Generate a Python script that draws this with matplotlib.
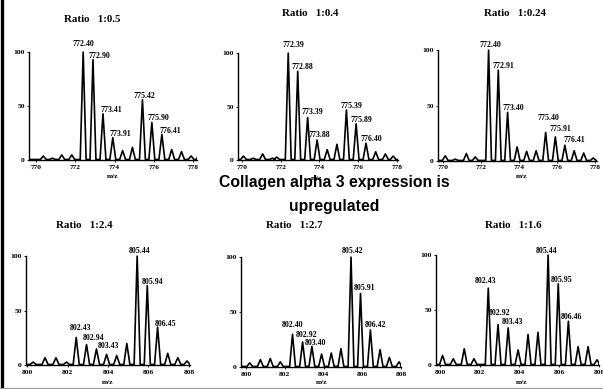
import matplotlib
matplotlib.use("Agg")
import matplotlib.pyplot as plt
from matplotlib.lines import Line2D

plt.rcParams["font.family"] = ["Liberation Serif", "DejaVu Serif"]
plt.rcParams["font.weight"] = "bold"

W, H = 603, 389

# ---- spectra: peak apex m/z and relative intensity ----
p1_mz = [770.37, 770.83, 771.31, 771.82, 772.40, 772.90, 773.41, 773.91, 774.41,
         774.91, 775.42, 775.90, 776.41, 776.91, 777.41, 777.90, 778.30]
p1_int = [4, 2, 5, 5, 100, 93, 43, 21, 9, 12, 56, 35, 24, 10, 8, 4, 5]
p1_labels = ["772.40", "772.90", "773.41", "773.91", "775.42", "775.90", "776.41"]

p2_mz = [770.08, 770.58, 771.07, 771.57, 771.80, 772.39, 772.88, 773.39, 773.88,
         774.40, 774.90, 775.39, 775.89, 776.40, 776.90, 777.40, 777.80]
p2_int = [4, 2, 6, 2, 3, 100, 83, 40, 19, 10, 15, 47, 34, 16, 8, 6, 4]
p2_labels = ["772.39", "772.88", "773.39", "773.88", "775.39", "775.89", "776.40"]

p3_mz = [770.12, 770.65, 771.23, 771.70, 772.40, 772.91, 773.40, 773.90, 774.40,
         774.90, 775.40, 775.91, 776.41, 776.90, 777.40, 777.90]
p3_int = [5, 2, 7, 4, 100, 82, 44, 13, 9, 9.5, 26, 22, 14.5, 9.5, 7.5, 3]
p3_labels = ["772.40", "772.91", "773.40", "775.40", "775.91", "776.41"]

p4_mz = [800.30, 800.89, 801.43, 801.95, 802.43, 802.94, 803.43, 803.93, 804.43,
         804.93, 805.44, 805.94, 806.45, 806.95, 807.45, 807.90]
p4_int = [3, 7, 7, 3, 25.5, 19, 15, 10, 9, 20, 100, 73, 35, 11, 7, 4]
p4_labels = ["802.43", "802.94", "803.43", "805.44", "805.94", "806.45"]

p5_mz = [800.19, 800.74, 801.25, 801.77, 802.40, 802.92, 803.40, 803.90, 804.40,
         804.90, 805.42, 805.91, 806.42, 806.92, 807.40, 807.90]
p5_int = [4, 7, 8, 5, 30, 23, 19, 12, 13, 17, 100, 67, 34, 16, 9, 5]
p5_labels = ["802.40", "802.92", "803.40", "805.42", "805.91", "806.42"]

p6_mz = [800.13, 800.67, 801.22, 801.71, 802.43, 802.92, 803.43, 803.93, 804.43,
         804.93, 805.44, 805.95, 806.46, 806.95, 807.45, 807.90]
p6_int = [9, 6, 15, 6, 70, 37, 34, 14, 28, 30, 100, 74, 40, 17, 17, 5]
p6_labels = ["802.43", "802.92", "803.43", "805.44", "805.95", "806.46"]

titles = ["Ratio   1:0.5", "Ratio   1:0.4", "Ratio   1:0.24",
          "Ratio   1:2.4", "Ratio   1:2.7", "Ratio   1:1.6"]
top_ticks = [770, 772, 774, 776, 778]
bottom_ticks = [800, 802, 804, 806, 808]
y_ticks = [0, 50, 100]

# ---- layout (pixel boxes: left, top, right, bottom) ----
panels = [
    dict(mz=p1_mz, it=p1_int, lab=p1_labels, box=(29, 51, 197, 161), xlim=(769.64, 778.2),
         ticks=top_ticks, title_xy=(92, 20), xl_xy=(113, 177),
         nudge=[(0, 8), (6, 4), (8, 4), (8, 4), (2, 4), (7, 4), (8, 3)]),
    dict(mz=p2_mz, it=p2_int, lab=p2_labels, box=(238, 52, 398, 161), xlim=(769.8, 778.05),
         ticks=top_ticks, title_xy=(310, 13), xl_xy=(317, 178),
         nudge=[(5, 8), (5, 4), (5, 5), (2, 5), (5, 4), (5, 4), (5, 4)]),
    dict(mz=p3_mz, it=p3_int, lab=p3_labels, box=(438, 49, 597, 162), xlim=(769.74, 778.1),
         ticks=top_ticks, title_xy=(515, 13), xl_xy=(522, 177),
         nudge=[(2, 5), (5, 4), (6, 4), (3, 14), (5, 8), (9, 5)]),
    dict(mz=p4_mz, it=p4_int, lab=p4_labels, box=(26, 255, 190, 366), xlim=(799.95, 808.05),
         ticks=bottom_ticks, title_xy=(84, 226), xl_xy=(108, 383),
         nudge=[(4, 9), (7, 7), (12, 3), (2, 5), (5, 4), (8, 3)]),
    dict(mz=p5_mz, it=p5_int, lab=p5_labels, box=(241, 256, 401, 368), xlim=(799.74, 808.0),
         ticks=bottom_ticks, title_xy=(294, 226), xl_xy=(322, 383),
         nudge=[(0, 9), (4, 7), (4, 3), (2, 6), (4, 5), (5, 5)]),
    dict(mz=p6_mz, it=p6_int, lab=p6_labels, box=(436, 254, 599, 366), xlim=(799.8, 808.0),
         ticks=bottom_ticks, title_xy=(513, 226), xl_xy=(522, 383),
         nudge=[(-3, 7), (2, 12), (4, 6), (-2, 4), (3, 4), (3, 4)]),
]

PX = 72.0 / 100.0  # points per pixel at 100 dpi


def trace(mz, inten, lo, hi, base=0.8, hw=0.15):
    """Peak-by-peak profile: each peak drawn as a narrow triangle on the baseline."""
    xs, ys = [lo], [base]
    for m, h in zip(mz, inten):
        xs += [m - hw, m, m + hw]
        ys += [base, h, base]
    xs.append(hi)
    ys.append(base)
    return xs, ys


fig = plt.figure(figsize=(W / 100, H / 100), dpi=100)

for p, title in zip(panels, titles):
    l, t, r, b = p["box"]
    ax = fig.add_axes([l / W, 1 - b / H, (r - l) / W, (b - t) / H])
    xs, ys = trace(p["mz"], p["it"], *p["xlim"])
    ax.plot(xs, ys, color="black", lw=1.2, solid_joinstyle="round")
    ax.set_xlim(*p["xlim"])
    ax.set_ylim(-0.6, 101)
    for s in ("top", "right"):
        ax.spines[s].set_visible(False)
    ax.spines["bottom"].set_position(("data", 0))
    ax.spines["left"].set_bounds(0, 100)
    ax.spines["left"].set_linewidth(1.0)
    ax.spines["bottom"].set_linewidth(1.0)
    ax.set_xticks(p["ticks"])
    ax.set_yticks(y_ticks)
    ax.set_xticklabels([str(v) for v in p["ticks"]])
    ax.set_yticklabels([str(v) for v in y_ticks])
    ax.tick_params(length=1.5, width=0.6, pad=1.5, labelsize=5.4)

    for lab, (dx, dy) in zip(p["lab"], p["nudge"]):
        idx = [f"{m:.2f}" for m in p["mz"]].index(lab)
        ax.annotate(lab, (p["mz"][idx], p["it"][idx]), xytext=(dx * PX, dy * PX),
                    textcoords="offset points", ha="center", va="center",
                    fontsize=5.7, fontweight="bold", annotation_clip=False)

    tx, ty = p["title_xy"]
    fig.text(tx / W, 1 - ty / H, title, ha="center", va="center",
             fontsize=7.8, fontweight="bold")
    mx, my = p["xl_xy"]
    fig.text(mx / W, 1 - my / H, "m/z", ha="center", va="center",
             fontsize=5.4, fontweight="bold")

# headline between the two rows
fig.text(334 / W, 1 - 187.5 / H, "Collagen alpha 3 expression is", ha="center",
         va="baseline", fontsize=11.3, fontweight="bold", family="Liberation Sans")
fig.text(334 / W, 1 - 211.5 / H, "upregulated", ha="center",
         va="baseline", fontsize=11.3, fontweight="bold", family="Liberation Sans")

# slide frame: dark bar on the left edge and grey rule along the bottom
fig.add_artist(Line2D([1.5 / W, 1.5 / W], [1 - 387 / H, 1], transform=fig.transFigure,
                      color="black", lw=3.3 * PX))
fig.add_artist(Line2D([0, 1], [1 - 387.5 / H, 1 - 387.5 / H], transform=fig.transFigure,
                      color="#9a9a9a", lw=0.9))

fig.savefig("out.png", dpi=100)
